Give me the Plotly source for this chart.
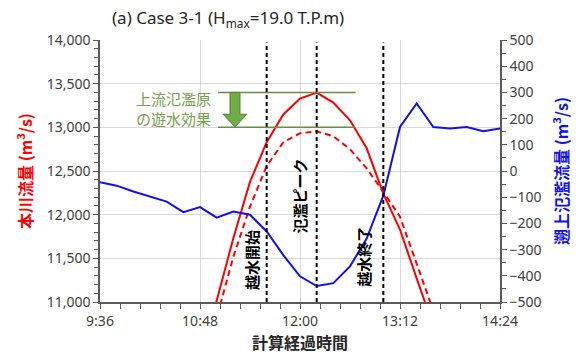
import plotly.graph_objects as go

# ---------------- data ----------------
def tmin(s):
    h, m = s.split(":")
    return int(h) * 60 + int(m)

blue_times = ["9:36", "9:48", "10:00", "10:12", "10:24", "10:36", "10:48", "11:00",
              "11:12", "11:24", "11:36", "11:48", "12:00", "12:12", "12:24", "12:36",
              "12:48", "13:00", "13:12", "13:24", "13:36", "13:48", "14:00", "14:12", "14:24"]
blue_flow = [-43, -56, -78, -98, -117, -157, -138, -178, -155, -167, -231, -321, -402,
             -439, -428, -364, -258, -94, 168, 258, 168, 162, 168, 152, 162]

red_times = ["10:48", "11:00", "11:12", "11:24", "11:36", "11:48", "12:00", "12:12",
             "12:24", "12:36", "12:48", "13:00", "13:12", "13:24", "13:36"]
main_flow_solid = [10300, 11010, 11730, 12375, 12830, 13148, 13330, 13398,
                   13284, 13080, 12760, 12240, 11830, 11270, 10725]
main_flow_dashed = [10200, 10818, 11517, 12091, 12557, 12830, 12932, 12955,
                    12898, 12750, 12530, 12261, 11977, 11443, 10900]

event_times = ["11:36", "12:12", "13:00"]
event_labels = ["越水開始", "氾濫ピーク", "越水終了"]

xtick_labels = ["9:36", "10:48", "12:00", "13:12", "14:24"]

bx = [tmin(t) for t in blue_times]
rx = [tmin(t) for t in red_times]
xt = [tmin(t) for t in xtick_labels]
ev = [tmin(t) for t in event_times]

TICKFONT = dict(family="Noto Sans, Noto Sans CJK JP", size=14, color="#404040")
CJK = "Noto Sans CJK JP"

fig = go.Figure()
fig.add_trace(go.Scatter(x=rx, y=main_flow_solid, mode="lines",
                         line=dict(color="#ff0000", width=2), yaxis="y", showlegend=False))
fig.add_trace(go.Scatter(x=rx, y=main_flow_dashed, mode="lines",
                         line=dict(color="#ff0000", width=2, dash="6px,4px"), yaxis="y", showlegend=False))
fig.add_trace(go.Scatter(x=bx, y=blue_flow, mode="lines",
                         line=dict(color="#1010e8", width=2), yaxis="y2", showlegend=False))

shapes = []
for t in ev:
    shapes.append(dict(type="line", xref="x", yref="paper", x0=t, x1=t, y0=0, y1=0.99,
                       line=dict(color="black", width=2, dash="4px,3px")))

# green annotation: upstream floodplain storage effect
peak_hi, peak_lo = 13400, 13000
gx0, gx1 = 661, 760
shapes.append(dict(type="line", xref="x", yref="y", x0=gx0, x1=gx1, y0=peak_hi, y1=peak_hi,
                   line=dict(color="#6a8c4a", width=1.5)))
shapes.append(dict(type="line", xref="x", yref="y", x0=gx0, x1=gx1, y0=peak_lo, y1=peak_lo,
                   line=dict(color="#6a8c4a", width=1.5)))
ax_c = 673.2
arrow = (f"M {ax_c-3.6} {peak_hi} L {ax_c+3.6} {peak_hi} L {ax_c+3.6} 13150 "
         f"L {ax_c+8.6} 13150 L {ax_c} {peak_lo+5} L {ax_c-8.6} 13150 L {ax_c-3.6} 13150 Z")
shapes.append(dict(type="path", xref="x", yref="y", path=arrow,
                   fillcolor="#70ad47", line=dict(color="#548235", width=1)))

annotations = [
    dict(text="(a) Case 3-1 (H<sub>max</sub>=19.0 T.P.m)", xref="paper", yref="paper",
         x=0.32, y=1.0, yshift=22, xanchor="center", yanchor="middle", showarrow=False,
         font=dict(family="Noto Sans", size=17, color="#262626")),
    dict(text="上流氾濫原<br>の遊水効果", xref="x", yref="y", x=657, y=13210,
         xanchor="right", yanchor="middle", align="center", showarrow=False,
         font=dict(family=CJK, size=15, color="#76a04f")),
]
shifts = [-15, -17, -20]
ypos = [11477, 12216, 11523]
for t, lab, s, yv in zip(ev, event_labels, shifts, ypos):
    annotations.append(dict(text=f"<b>{lab}</b>", xref="x", yref="y", x=t, y=yv, xshift=s,
                            textangle=-90, showarrow=False,
                            font=dict(family=CJK, size=15, color="black")))

fig.update_layout(
    width=580, height=362,
    margin=dict(l=100, r=80, t=40, b=58),
    paper_bgcolor="white", plot_bgcolor="white",
    shapes=shapes, annotations=annotations,
    xaxis=dict(range=[576, 864], tickmode="array", tickvals=xt, ticktext=xtick_labels,
               showgrid=True, gridcolor="#d9d9d9", gridwidth=1,
               showline=True, linecolor="#595959", linewidth=1.5,
               ticks="outside", ticklen=5, tickcolor="#595959", tickfont=TICKFONT,
               minor=dict(tick0=576, dtick=14.4, ticks="outside", ticklen=5,
                          tickcolor="#595959", showgrid=False),
               zeroline=False,
               title=dict(text="<b>計算経過時間</b>", font=dict(family=CJK, size=16, color="#262626"),
                          standoff=9)),
    yaxis=dict(range=[11000, 14000], tickmode="linear", tick0=11000, dtick=500, tickformat=",",
               showgrid=True, gridcolor="#d9d9d9", gridwidth=1,
               showline=True, linecolor="#595959", linewidth=1.5,
               ticks="outside", ticklen=5, tickcolor="#595959", tickfont=TICKFONT,
               minor=dict(dtick=100, ticks="outside", ticklen=4, tickcolor="#595959", showgrid=False),
               zeroline=False,
               title=dict(text="<b>本川流量 (m<sup>3</sup>/s)</b>",
                          font=dict(family=CJK, size=16, color="#ff0000"), standoff=10)),
    yaxis2=dict(range=[-500, 500], overlaying="y", side="right", tickmode="linear", tick0=-500, dtick=100,
                showgrid=False, showline=True, linecolor="#595959", linewidth=1.5,
                ticks="outside", ticklen=5, tickcolor="#595959", tickfont=TICKFONT,
                minor=dict(dtick=50, ticks="outside", ticklen=4, tickcolor="#595959", showgrid=False),
                zeroline=False, automargin=False,
                title=dict(text="<b>遡上氾濫流量 (m<sup>3</sup>/s)</b>",
                           font=dict(family=CJK, size=16, color="#1010e8"), standoff=16)),
)

fig.write_html("out.html")
